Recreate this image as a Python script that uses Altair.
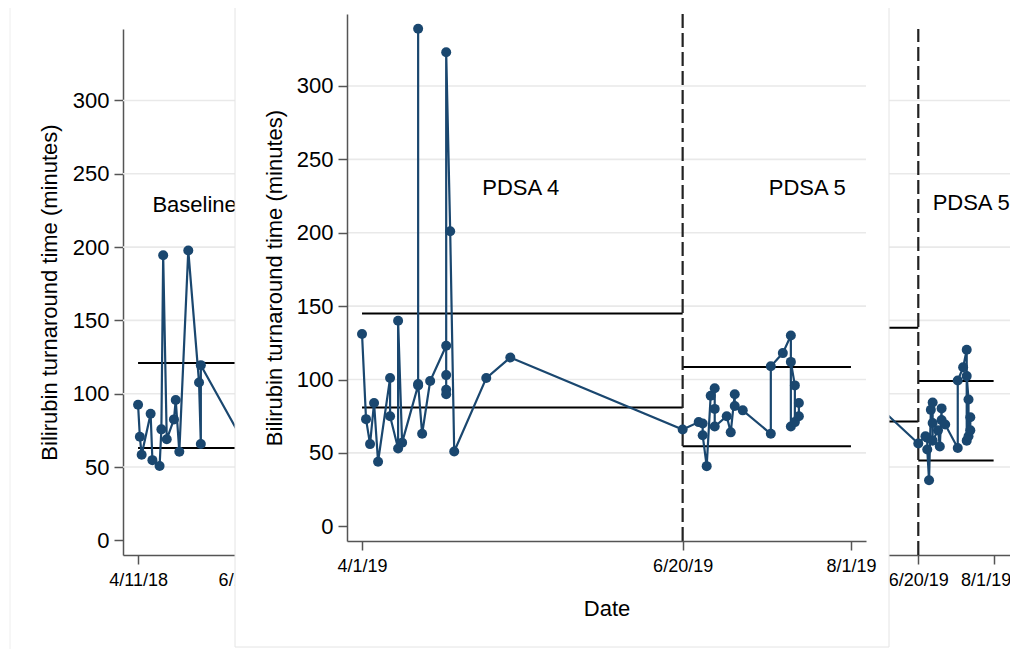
import altair as alt
import pandas as pd

NAVY = "#1a476f"
GRID = "#e9e9e9"
AXISC = "#555555"
FONT = "Liberation Sans"

# ---------------- data ----------------
baseline_dates = ["2018-04-11", "2018-04-12", "2018-04-13", "2018-04-18", "2018-04-19",
                  "2018-04-23", "2018-04-24", "2018-04-25", "2018-04-27", "2018-05-01",
                  "2018-05-02", "2018-05-04", "2018-05-09", "2018-05-15", "2018-05-16",
                  "2018-05-16", "2018-06-12"]
baseline_vals = [92.5, 70.6, 58.4, 86.3, 54.7, 50.7, 75.7, 194.5, 68.9, 82.5,
                 95.7, 60.4, 197.7, 107.7, 65.7, 119.5, 60]

pdsa4_dates = ["2019-04-01", "2019-04-02", "2019-04-03", "2019-04-04", "2019-04-05",
               "2019-04-08", "2019-04-08", "2019-04-10", "2019-04-10", "2019-04-11",
               "2019-04-15", "2019-04-15", "2019-04-15", "2019-04-16", "2019-04-18",
               "2019-04-22", "2019-04-22", "2019-04-22", "2019-04-22", "2019-04-22",
               "2019-04-23", "2019-04-24", "2019-05-02", "2019-05-08"]
pdsa4_vals = [131, 73, 56, 84, 44, 101, 75, 53, 140, 57, 96, 339, 97, 63, 99,
              123, 103, 93, 90, 323, 201, 51, 101, 115]

pdsa5_dates = ["2019-06-20", "2019-06-24", "2019-06-25", "2019-06-25", "2019-06-26",
               "2019-06-27", "2019-06-28", "2019-06-28", "2019-06-28", "2019-07-01",
               "2019-07-02", "2019-07-03", "2019-07-03", "2019-07-05", "2019-07-12",
               "2019-07-12", "2019-07-15", "2019-07-17", "2019-07-17", "2019-07-17",
               "2019-07-18", "2019-07-18", "2019-07-19", "2019-07-19"]
pdsa5_vals = [66, 71, 70, 62, 41, 89, 94, 80, 68, 75, 64, 90, 82, 79, 63,
              109, 118, 130, 68, 112, 96, 71, 75, 84]

phase_starts = ["2018-04-11", "2019-04-01", "2019-06-20"]
phase_ends = ["2018-06-12", "2019-06-20", "2019-08-01"]
phase_ucl = [121, 145, 108.6]
phase_lcl = [63, 81, 54.5]

boundary_dates = ["2019-06-20"]

y_ticks = [0, 50, 100, 150, 200, 250, 300]
grid_ticks = [50, 100, 150, 200, 250, 300]

bg_x_ticks = ["2018-04-11", "2018-06-11", "2019-04-01", "2019-06-20", "2019-08-01"]
fg_x_ticks = ["2019-04-01", "2019-06-20", "2019-08-01"]

bg_labels = ["Baseline", "PDSA 5"]
bg_label_dates = ["2018-04-19", "2019-06-28"]
bg_label_vals = [229, 230]

fg_labels = ["PDSA 4", "PDSA 5"]
fg_label_dates = ["2019-05-01", "2019-07-11T12:00:00"]
fg_label_vals = [230.5, 230.5]

bg_x_domain = ["2018-04-02T14:24:00", "2019-08-20T00:00:00"]
bg_y_domain = [-10, 348.75]
fg_x_domain = ["2019-03-28T06:00:00", "2019-08-04T18:00:00"]
fg_y_domain = [-10, 349]


def ts(s):
    return s if "T" in s else s + "T00:00:00"


def dt(s):
    t = pd.Timestamp(s)
    return alt.DateTime(year=t.year, month=t.month, date=t.day, hours=t.hour, minutes=t.minute)


all_dates = [ts(d) for d in baseline_dates + pdsa4_dates + pdsa5_dates]
all_vals = baseline_vals + pdsa4_vals + pdsa5_vals
points = pd.DataFrame({"date": all_dates, "value": all_vals, "idx": list(range(len(all_vals)))})
fg_points = points[points["date"] >= "2019-04-01"].reset_index(drop=True)

limits = pd.DataFrame({"start": [ts(d) for d in phase_starts], "end": [ts(d) for d in phase_ends],
                       "ucl": phase_ucl, "lcl": phase_lcl})
fg_limits = limits[limits["start"] >= "2019-04-01"].reset_index(drop=True)


def bounds_df(ydom):
    return pd.DataFrame({"date": [ts(d) for d in boundary_dates],
                         "lo": [ydom[0]] * len(boundary_dates),
                         "hi": [ydom[1]] * len(boundary_dates)})


def grid_df(xdom):
    return pd.DataFrame({"g": grid_ticks, "start": [xdom[0]] * len(grid_ticks),
                         "end": [xdom[1]] * len(grid_ticks)})


def labels_df(labels, dates, vals):
    return pd.DataFrame({"label": labels, "date": [ts(d) for d in dates], "value": vals})


def make_panel(pts, lims, bnds, grid, labs, xs, ys, xa, ya):
    def X(f):
        return alt.X(f, type="temporal", scale=xs, axis=xa)

    def Y(f):
        return alt.Y(f, type="quantitative", scale=ys, axis=ya)

    g = alt.Chart(grid).mark_rule(color=GRID, strokeWidth=1.6).encode(
        x=X("start"), x2="end:T", y=Y("g"))
    u = alt.Chart(lims).mark_rule(color="black", strokeWidth=2).encode(
        x=X("start"), x2="end:T", y=Y("ucl"))
    lo = alt.Chart(lims).mark_rule(color="black", strokeWidth=2).encode(
        x=X("start"), x2="end:T", y=Y("lcl"))
    d = alt.Chart(bnds).mark_rule(color="#222222", strokeWidth=2.2, strokeDash=[14, 5]).encode(
        x=X("date"), y=Y("lo"), y2="hi:Q")
    ln = alt.Chart(pts).mark_line(color=NAVY, strokeWidth=2.2).encode(
        x=X("date"), y=Y("value"), order=alt.Order("idx:Q"))
    pt = alt.Chart(pts).mark_circle(color=NAVY, size=100, opacity=1).encode(
        x=X("date"), y=Y("value"))
    tx = alt.Chart(labs).mark_text(align="left", baseline="middle", fontSize=22,
                                   font=FONT, color="black").encode(
        x=X("date"), y=Y("value"), text="label:N")
    return alt.layer(g, u, lo, d, ln, pt, tx)


axis_common = dict(grid=False, domainColor=AXISC, domainWidth=1.5, tickColor=AXISC,
                   tickWidth=1.5, tickSize=9, labelColor="black", titleColor="black",
                   labelFont=FONT, titleFont=FONT, titleFontWeight="normal",
                   titleFontSize=22, labelOverlap=False, labelFlush=False)

# background (full) chart
bg_xs = alt.Scale(domain=[dt(v) for v in bg_x_domain], range=[115, 1019.7], nice=False)
bg_ys = alt.Scale(domain=bg_y_domain, range=[547, 21], nice=False, zero=False)
bg_xa = alt.Axis(orient="bottom", offset=-94, values=[dt(v) for v in bg_x_ticks],
                 format="%-m/%-d/%y", title=None, labelFontSize=18, labelPadding=7,
                 labelOffset={"condition": {"test": "year(datum.value) == 2019 && month(datum.value) == 7",
                                            "value": -8}, "value": 0},
                 zindex=0, **axis_common)
bg_ya = alt.Axis(orient="left", offset=-115, values=y_ticks,
                 title="Bilirubin turnaround time (minutes)", labelFontSize=22,
                 labelPadding=5, titlePadding=11, zindex=0, **axis_common)

bg = make_panel(points, limits, bounds_df(bg_y_domain), grid_df(bg_x_domain),
                labels_df(bg_labels, bg_label_dates, bg_label_vals), bg_xs, bg_ys, bg_xa, bg_ya)

# foreground (zoomed) chart
fg_xs = alt.Scale(domain=[dt(v) for v in fg_x_domain], range=[339, 858], nice=False)
fg_ys = alt.Scale(domain=fg_y_domain, range=[533, 6], nice=False, zero=False)
fg_xa = alt.Axis(orient="bottom", offset=-108, values=[dt(v) for v in fg_x_ticks],
                 format="%-m/%-d/%y", title="Date", labelFontSize=18, labelPadding=7,
                 titlePadding=23, zindex=1, **axis_common)
fg_ya = alt.Axis(orient="left", offset=-339, values=y_ticks,
                 title="Bilirubin turnaround time (minutes)", labelFontSize=22,
                 labelPadding=5, titlePadding=10, zindex=1, **axis_common)

fg = make_panel(fg_points, fg_limits, bounds_df(fg_y_domain), grid_df(fg_x_domain),
                labels_df(fg_labels, fg_label_dates, fg_label_vals), fg_xs, fg_ys, fg_xa, fg_ya)

one = pd.DataFrame({"k": [0]})
bg_border = alt.Chart(one).mark_rect(fillOpacity=0, stroke="#eeeeee", strokeWidth=1).encode(
    x=alt.value(2), x2=alt.value(1100), y=alt.value(-2), y2=alt.value(660))
fg_panel = alt.Chart(one).mark_rect(fill="white", stroke="#e4e4e4", strokeWidth=1).encode(
    x=alt.value(227), x2=alt.value(881), y=alt.value(-10), y2=alt.value(639))

chart = alt.layer(bg_border, bg, fg_panel, fg).resolve_scale(
    x="independent", y="independent"
).properties(
    width=1002, height=641, padding=0,
    autosize=alt.AutoSizeParams(type="none"),
).configure(font=FONT).configure_view(stroke=None)

chart.save("out.html", embed_options={"renderer": "svg", "actions": False})
